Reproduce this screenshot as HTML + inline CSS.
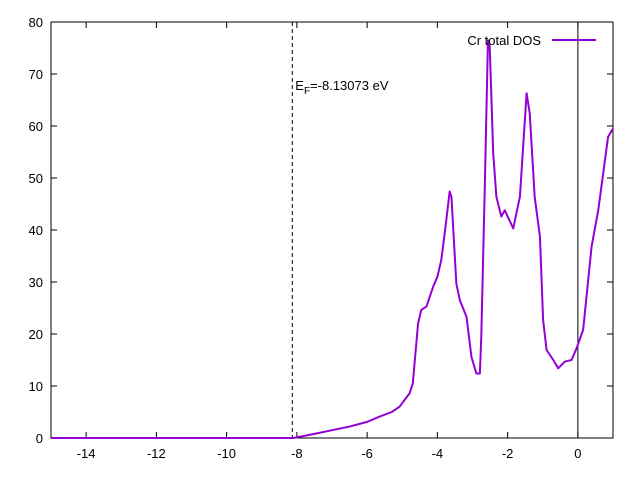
<!DOCTYPE html>
<html><head><meta charset="utf-8"><style>body{margin:0;background:#fff}svg{display:block;font-family:"Liberation Sans",sans-serif}</style></head>
<body>
<svg id="c" width="640" height="480"></svg>
<script>
const energies=[-15,-8.15,-8.1,-7.5,-7,-6.5,-6,-5.65,-5.3,-5.08,-4.79,-4.70,-4.55,-4.46,-4.31,-4.12,-4.0,-3.89,-3.78,-3.65,-3.60,-3.46,-3.36,-3.17,-3.03,-2.89,-2.79,-2.75,-2.65,-2.56,-2.51,-2.41,-2.32,-2.18,-2.08,-2.00,-1.84,-1.65,-1.46,-1.37,-1.23,-1.08,-0.99,-0.89,-0.70,-0.56,-0.37,-0.18,-0.04,0.15,0.39,0.58,0.86,1.0];
const dosValues=[0,0,0,0.8,1.5,2.2,3.1,4.1,5.0,6.0,8.6,10.5,22,24.6,25.3,29.1,31,34.2,40,47.4,46.4,29.7,26.5,23.3,15.6,12.4,12.4,19.5,48.3,76.5,75.3,54.7,46.4,42.6,43.8,42.6,40.3,46.4,66.3,62.4,46.4,38.7,22.7,16.9,15,13.4,14.7,15,17.2,20.8,36.8,43.8,57.9,59.5];
const xTicks=[-14,-12,-10,-8,-6,-4,-2,0];
const yTicks=[0,10,20,30,40,50,60,70,80];
const fermi=-8.13073;
const L=51,R=613,T=22,B=438;
const sx=v=>L+(v+15)/16*(R-L), sy=v=>B-v/80*(B-T);
const svg=document.getElementById('c');const NS='http://www.w3.org/2000/svg';
function mk(t,a,txt){const e=document.createElementNS(NS,t);for(const k in a)e.setAttribute(k,a[k]);if(txt!==undefined)e.textContent=txt;svg.appendChild(e);return e;}
let e;
for(const v of xTicks){
e=mk('line',{x1:sx(v),x2:sx(v),y1:B,y2:B-6,stroke:'#000'});


mk('line',{x1:sx(v),x2:sx(v),y1:T,y2:T+6,stroke:'#000'});
e=mk('text',{x:sx(v),y:B+20,'text-anchor':'middle','font-size':13},String(v));


}
for(const v of yTicks){
e=mk('line',{x1:L,x2:L+6,y1:sy(v),y2:sy(v),stroke:'#000'});


mk('line',{x1:R,x2:R-6,y1:sy(v),y2:sy(v),stroke:'#000'});
e=mk('text',{x:L-8,y:sy(v)+5,'text-anchor':'end','font-size':13},String(v));


}
e=mk('rect',{x:L,y:T,width:R-L,height:B-T,fill:'none',stroke:'#000'});


e=mk('line',{x1:sx(0),x2:sx(0),y1:T,y2:B,stroke:'#000'});


e=mk('line',{x1:sx(fermi),x2:sx(fermi),y1:T,y2:B,stroke:'#000','stroke-dasharray':'4,3'});


e=mk('text',{x:sx(fermi)+3,y:90,'font-size':13});
e.innerHTML='E<tspan font-size="10" dy="4">F</tspan><tspan dy="-4">=-8.13073 eV</tspan>';


e=mk('polyline',{points:energies.map((x,i)=>sx(x)+','+sy(dosValues[i])).join(' '),fill:'none',stroke:'#9400d3','stroke-width':2,'stroke-linejoin':'round'});


e=mk('text',{x:541,y:45,'text-anchor':'end','font-size':13},'Cr total DOS');


e=mk('line',{x1:552,x2:596,y1:40,y2:40,stroke:'#9400d3','stroke-width':2});


</script>
</body></html>
